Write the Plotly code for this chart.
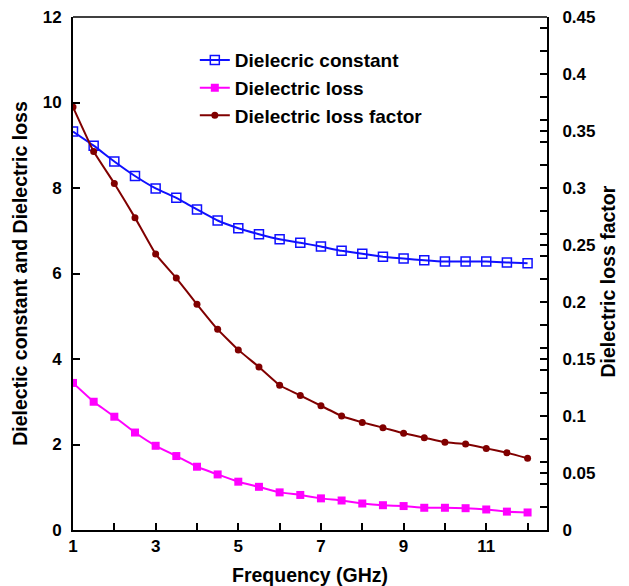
import plotly.graph_objects as go

freq = [1, 1.5, 2, 2.5, 3, 3.5, 4, 4.5, 5, 5.5, 6, 6.5, 7, 7.5, 8, 8.5, 9, 9.5, 10, 10.5, 11, 11.5, 12]
dielectric_constant = [9.32, 8.99, 8.62, 8.28, 7.99, 7.77, 7.50, 7.24, 7.06, 6.92, 6.80, 6.72,
                       6.63, 6.53, 6.46, 6.39, 6.35, 6.31, 6.28, 6.28, 6.28, 6.26, 6.24]
dielectric_loss = [3.44, 3.00, 2.65, 2.28, 1.97, 1.73, 1.48, 1.30, 1.13, 1.01, 0.88, 0.82,
                   0.74, 0.69, 0.62, 0.58, 0.56, 0.52, 0.52, 0.51, 0.48, 0.43, 0.41]
loss_factor = [0.371, 0.332, 0.304, 0.274, 0.242, 0.221, 0.198, 0.176, 0.158, 0.143, 0.127, 0.118,
               0.109, 0.100, 0.0944, 0.0898, 0.0848, 0.081, 0.077, 0.0754, 0.0716, 0.0678, 0.0629]

x_ticks = [1, 3, 5, 7, 9, 11]
y_ticks = [0, 2, 4, 6, 8, 10, 12]
y2_ticks = [0, 0.05, 0.1, 0.15, 0.2, 0.25, 0.3, 0.35, 0.4, 0.45]

FONT = "Liberation Sans, Arial, sans-serif"

fig = go.Figure()
fig.add_trace(go.Scatter(
    x=freq, y=dielectric_constant, name="<b>Dielecric constant</b>", mode="lines+markers",
    line=dict(color="#1010ff", width=2, shape="spline", smoothing=0.3),
    marker=dict(symbol="square-open", size=9, color="#1010ff", line=dict(width=1.5)),
))
fig.add_trace(go.Scatter(
    x=freq, y=dielectric_loss, name="<b>Dielectric loss</b>", mode="lines+markers",
    line=dict(color="#ff00ff", width=2, shape="spline", smoothing=0.3),
    marker=dict(symbol="square", size=8, color="#ff00ff"),
))
fig.add_trace(go.Scatter(
    x=freq, y=loss_factor, name="<b>Dielectric loss factor</b>", mode="lines+markers", yaxis="y2",
    line=dict(color="#800000", width=2, shape="spline", smoothing=0.3),
    marker=dict(symbol="circle", size=7, color="#800000"),
))

tickfont = dict(family=FONT, size=17, color="black")
titlefont = dict(family=FONT, size=19.5, color="black")
tk = dict(ticks="inside", ticklen=7, tickwidth=2, tickcolor="black")

# the page body adds an 8px offset, so the figure is 8px smaller and margins shifted
fig.update_layout(
    width=621, height=578,
    margin=dict(l=65, r=82, t=9, b=56),
    paper_bgcolor="white", plot_bgcolor="white",
    font=dict(family=FONT, color="black"),
    showlegend=True,
    legend=dict(x=0.257, y=0.953, xanchor="left", yanchor="top", bgcolor="rgba(0,0,0,0)",
                font=dict(family=FONT, size=19, color="black"), itemwidth=30),
    xaxis=dict(
        range=[1, 12.47], tickmode="array", tickvals=x_ticks,
        ticktext=[f"<b>{v}</b>" for v in x_ticks],
        minor=dict(dtick=1, tick0=1, **tk), **tk,
        showline=True, linecolor="black", linewidth=2, showgrid=False, zeroline=False,
        tickfont=tickfont, automargin=False, ticklabeloverflow="allow",
        title=dict(text="<b>Frequency (GHz)</b>", font=titlefont, standoff=21),
    ),
    yaxis=dict(
        range=[0, 12], tickmode="array", tickvals=y_ticks,
        ticktext=[f"<b>{v}</b>" for v in y_ticks], **tk,
        showline=True, linecolor="black", linewidth=2, showgrid=False, zeroline=False,
        tickfont=tickfont, ticklabelstandoff=6, automargin=False, ticklabeloverflow="allow",
        title=dict(text="<b>Dielectic constant and Dielectric loss</b>", font=titlefont, standoff=10),
    ),
    yaxis2=dict(
        range=[0, 0.45], overlaying="y", side="right", tickmode="array", tickvals=y2_ticks,
        ticktext=[f"<b>{v:g}</b>" for v in y2_ticks], **tk,
        minor=dict(dtick=0.02, tick0=0, **tk),
        showline=True, linecolor="black", linewidth=2, showgrid=False, zeroline=False,
        tickfont=tickfont, ticklabelstandoff=10, automargin=False, ticklabeloverflow="allow",
    ),
    annotations=[dict(text="<b>Dielectric loss factor</b>", font=titlefont, textangle=-90,
                      xref="paper", yref="paper", x=1, y=0.5, xanchor="center", yanchor="middle",
                      xshift=60, yshift=-8, showarrow=False)],
    shapes=[dict(type="line", xref="paper", yref="paper", x0=0, x1=1, y0=1, y1=1,
                 line=dict(color="black", width=1.5))],
)

fig.write_html("out.html")
